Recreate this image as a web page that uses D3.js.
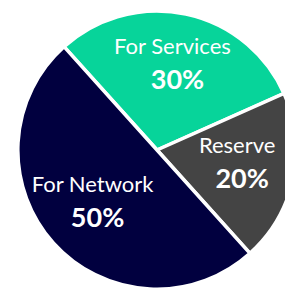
<!DOCTYPE html>
<html>
<head>
<meta charset="utf-8">
<script src="https://cdn.jsdelivr.net/npm/d3@7"></script>
<style>
  body { margin: 0; background: #fff; overflow: hidden; }
  .slice { stroke: #fff; stroke-width: 3.5; }
  .name { font-family: Lato, sans-serif; font-weight: 400; font-size: 22px; fill: #fff; }
  .pct { font-family: Lato, sans-serif; font-weight: 700; font-size: 27px; fill: #fff; }
</style>
</head>
<body>
<script>
const labels = ['For Services', 'Reserve', 'For Network'];
const shares = [30, 20, 50];
const colors = ['#07d49a', '#444444', '#01003f'];

const width = 285, height = 289;
const cx = 157, cy = 150, radius = 139, labelRadius = 84;

const data = labels.map((name, i) => ({name, value: shares[i], color: colors[i]}));

const pie = d3.pie()
    .sort(null)
    .value(d => d.value)
    .startAngle(-42 * Math.PI / 180)
    .endAngle(318 * Math.PI / 180);

const arc = d3.arc().innerRadius(0).outerRadius(radius);
const labelArc = d3.arc().innerRadius(labelRadius).outerRadius(labelRadius);

const svg = d3.select('body').append('svg')
    .attr('width', width)
    .attr('height', height);

const g = svg.append('g')
    .attr('transform', `translate(${cx}, ${cy})`);

const arcs = pie(data);

g.selectAll('path')
    .data(arcs)
    .enter().append('path')
    .attr('class', 'slice')
    .attr('fill', d => d.data.color)
    .attr('d', arc);

const lab = g.selectAll('g.label')
    .data(arcs)
    .enter().append('g')
    .attr('class', 'label')
    .attr('transform', d => {
        const [x, y] = labelArc.centroid(d);
        return `translate(${x - 2}, ${y + 3})`;
    });

lab.append('text')
    .attr('class', 'name')
    .attr('text-anchor', 'middle')
    .attr('y', -17)
    .text(d => d.data.name);

lab.append('text')
    .attr('class', 'pct')
    .attr('text-anchor', 'middle')
    .attr('x', 5)
    .attr('y', 18)
    .text(d => d.data.value + '%');
</script>
</body>
</html>
